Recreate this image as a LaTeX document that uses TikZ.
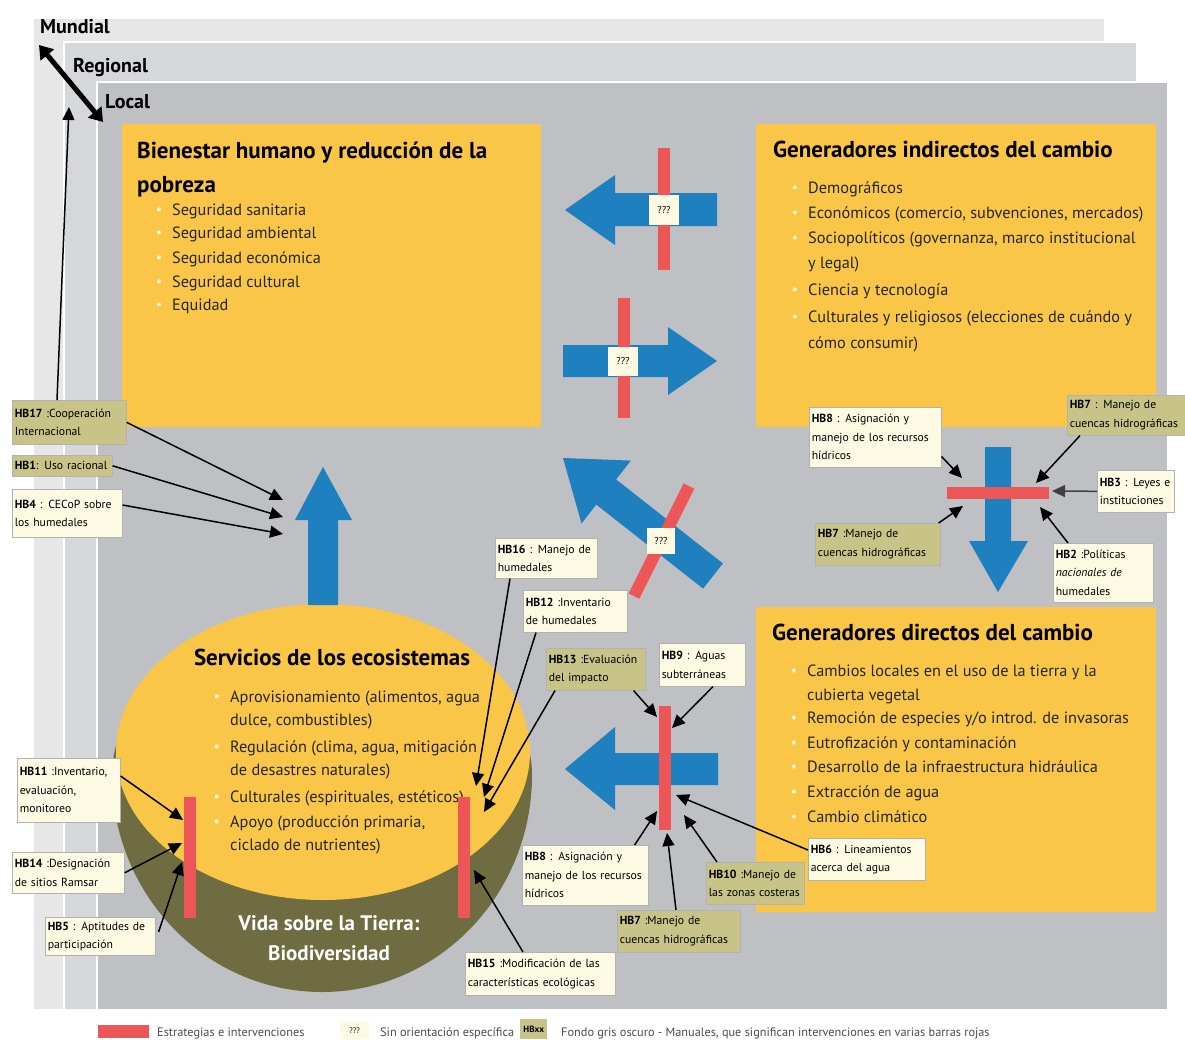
\documentclass[tikz,border=0pt]{standalone}
\usepackage{fontspec}
\setmainfont{PT Sans}
\usetikzlibrary{arrows.meta,calc}
\definecolor{yel}{RGB}{250,198,72}
\definecolor{blu}{RGB}{30,128,190}
\definecolor{redb}{RGB}{236,86,86}
\definecolor{oli}{RGB}{110,108,64}
\definecolor{crm}{RGB}{252,250,226}
\definecolor{olb}{RGB}{200,196,136}
\definecolor{gLoc}{RGB}{190,192,196}
\definecolor{gReg}{RGB}{214,215,218}
\definecolor{gMun}{RGB}{231,231,232}
\definecolor{bulc}{RGB}{255,246,214}
\newcommand\bul{\llap{\textcolor{bulc}{\raisebox{1pt}{\scalebox{0.9}{•}}}\hspace{10pt}}}
\begin{document}
\begin{tikzpicture}[x=1pt,y=-1pt,
  ybox/.style={fill=yel, anchor=north west, inner sep=0pt},
  ttl/.style={anchor=base west, inner sep=0pt, font=\bfseries\fontsize{23}{26}\selectfont},
  body/.style={anchor=base west, inner sep=0pt, font=\fontsize{16.3}{19}\selectfont, text=black!85},
  lvl/.style={anchor=base west, inner sep=0pt, font=\bfseries\fontsize{20}{24}\selectfont},
  hb/.style={draw=black!30, line width=0.6pt, inner sep=2.5pt, anchor=north west, align=left, font=\fontsize{11.7}{18.5}\selectfont},
  hbc/.style={hb, fill=crm},
  hbo/.style={hb, fill=olb},
  hbar/.style={line width=1.5pt, -{Triangle[length=13pt,width=12pt]}},
  qbox/.style={fill=crm, inner sep=0pt, minimum width=30pt, minimum height=30pt, font=\fontsize{10}{12}\selectfont},
  rbar/.style={draw=redb, line width=12pt},
  lgd/.style={anchor=base west, inner sep=0pt, font=\fontsize{12.3}{14}\selectfont, text=black!70}
]
\useasboundingbox (0,0) rectangle (1185,1039);
\fill[white] (0,0) rectangle (1185,1039);
% scale layers
\filldraw[fill=gMun, draw=white, line width=2pt] (33,18) rectangle (1105,1010);
\filldraw[fill=gReg, draw=white, line width=2pt] (64,42) rectangle (1137,1010);
\filldraw[fill=gLoc, draw=white, line width=2pt] (97,82) rectangle (1168,1010);
\node[lvl] (mund) at (40,33) {Mundial};
\node[lvl] (reg) at (73,72) {Regional};
\node[lvl] (loc) at (105,108) {Local};
\coordinate (dA) at (39,45);
\coordinate (dB) at (103,122);
\draw[line width=5pt, {Triangle[length=13pt,width=17pt]}-{Triangle[length=13pt,width=17pt]}] (dA) -- (dB);

% yellow boxes
\node[ybox, minimum width=419pt, minimum height=303pt] (bien) at (122,124) {};
\node[ybox, minimum width=400pt, minimum height=303pt] (gind) at (756,124) {};
\node[ybox, minimum width=400pt, minimum height=305pt] (gdir) at (756,607) {};

% ellipse (earth + services)
\begin{scope}
  \clip (100,775) rectangle (550,1000);
  \fill[oli] (322,775) ellipse[x radius=210, y radius=217];
\end{scope}
\fill[oli] (322,775) ellipse[x radius=210, y radius=150];
\fill[yel] (323,752) ellipse[x radius=207, y radius=148];

% Bienestar text
\node[ttl] (t1a) at (137,158) {Bienestar humano y reducción de la};
\node[ttl] (t1b) at (137,192) {pobreza};
\node[body] (b1) at (172,215) {\bul Seguridad sanitaria};
\node[body] (b2) at (172,238) {\bul Seguridad ambiental};
\node[body] (b3) at (172,263) {\bul Seguridad económica};
\node[body] (b4) at (172,287) {\bul Seguridad cultural};
\node[body] (b5) at (172,310) {\bul Equidad};

% Indirectos text
\node[ttl] (t2) at (773,157) {Generadores indirectos del cambio};
\node[body] (i1) at (808,193) {\bul Demográficos};
\node[body] (i2) at (808,218) {\bul Económicos (comercio, subvenciones, mercados)};
\node[body] (i3) at (808,243) {\bul Sociopolíticos (governanza, marco institucional};
\node[body] (i3b) at (808,268) {y legal)};
\node[body] (i4) at (808,295) {\bul Ciencia y tecnología};
\node[body] (i5) at (808,322) {\bul Culturales y religiosos (elecciones de cuándo y};
\node[body] (i5b) at (808,348) {cómo consumir)};

% Directos text
\node[ttl] (t3) at (772,640) {Generadores directos del cambio};
\node[body] (d1) at (807,676) {\bul Cambios locales en el uso de la tierra y la};
\node[body] (d1b) at (807,700) {cubierta vegetal};
\node[body] (d2) at (807,723) {\bul Remoción de especies y/o introd. de invasoras};
\node[body] (d3) at (807,748) {\bul Eutrofización y contaminación};
\node[body] (d4) at (807,772) {\bul Desarrollo de la infraestructura hidráulica};
\node[body] (d5) at (807,797) {\bul Extracción de agua};
\node[body] (d6) at (807,822) {\bul Cambio climático};

% Servicios text
\node[ttl, anchor=base] (t4) at (332,665) {Servicios de los ecosistemas};
\node[body] (s1) at (230,702) {\bul Aprovisionamiento (alimentos, agua};
\node[body] (s1b) at (230,725) {dulce, combustibles)};
\node[body] (s2) at (230,752) {\bul Regulación (clima, agua, mitigación};
\node[body] (s2b) at (230,775) {de desastres naturales)};
\node[body] (s3) at (230,802) {\bul Culturales (espirituales, estéticos)};
\node[body] (s4) at (230,827) {\bul Apoyo (producción primaria,};
\node[body] (s4b) at (230,850) {ciclado de nutrientes)};
\node[anchor=base, inner sep=0pt, text=white, font=\bfseries\fontsize{21}{26}\selectfont] (v1) at (329,930) {Vida sobre la Tierra:};
\node[anchor=base, inner sep=0pt, text=white, font=\bfseries\fontsize{21}{26}\selectfont] (v2) at (329,960) {Biodiversidad};

% blue block arrows
\fill[blu] (308,605) -- (308,520) -- (295,520) -- (323,467) -- (352,520) -- (338,520) -- (338,605) -- cycle;
\fill[blu] (717,193) -- (615,193) -- (615,175) -- (565,210) -- (615,245) -- (615,226) -- (717,226) -- cycle;
\fill[blu] (563,345) -- (668,345) -- (668,327) -- (717,361) -- (668,395) -- (668,377) -- (563,377) -- cycle;
\fill[blu] (703.1,588.6) -- (596.3,504.6) -- (581.5,523.4) -- (563,458) -- (630.9,460.6) -- (616.1,479.4) -- (722.9,563.4) -- cycle;
\fill[blu] (985,447) -- (1011,447) -- (1011,541) -- (1028,541) -- (998,592) -- (969,541) -- (985,541) -- cycle;
\fill[blu] (718,753) -- (615,753) -- (615,727) -- (565,769) -- (615,810) -- (615,785) -- (718,785) -- cycle;

% red bars
\coordinate (r1a) at (664,148); \coordinate (r1b) at (664,270);
\draw[rbar] (r1a) -- (r1b);
\coordinate (r2a) at (624,298); \coordinate (r2b) at (624,418);
\draw[rbar] (r2a) -- (r2b);
\coordinate (r3a) at (689,486); \coordinate (r3b) at (634,596);
\draw[rbar] (r3a) -- (r3b);
\coordinate (r4a) at (947,493); \coordinate (r4b) at (1049,493);
\draw[rbar] (r4a) -- (r4b);
\coordinate (r5a) at (665,706); \coordinate (r5b) at (665,830);
\draw[rbar] (r5a) -- (r5b);
\coordinate (r6a) at (190,797); \coordinate (r6b) at (190,918);
\draw[rbar] (r6a) -- (r6b);
\coordinate (r7a) at (464,797); \coordinate (r7b) at (464,918);
\draw[rbar] (r7a) -- (r7b);

% ??? boxes
\node[qbox] (q1) at (664,210) {???};
\node[qbox, minimum width=30pt, minimum height=29pt] (q2) at (623,361) {???};
\node[qbox, minimum width=28pt, minimum height=26pt] (q3) at (661,541) {???};

% HB label boxes
\node[hbo, text width=109pt, minimum height=44pt] (hb17) at (12,400) {\textbf{HB17} :Cooperación\\Internacional};
\node[hbo, text width=95pt, minimum height=21pt] (hb1) at (12,455) {\textbf{HB1}: Uso racional};
\node[hbc, text width=105pt, minimum height=48pt] (hb4) at (12,489) {\textbf{HB4} : CECoP sobre\\los humedales};
\node[hbc, text width=127pt, minimum height=60pt] (hb8a) at (809,407) {\textbf{HB8} : Asignación y\\manejo de los recursos\\hídricos};
\node[hbo, text width=113pt, minimum height=40pt] (hb7a) at (1067,395) {\textbf{HB7} : Manejo de\\cuencas hidrográficas};
\node[hbc, text width=72pt, minimum height=42pt] (hb3) at (1097,470) {\textbf{HB3} : Leyes e\\instituciones};
\node[hbo, text width=120pt, minimum height=42pt] (hb7b) at (815,523) {\textbf{HB7} :Manejo de\\cuencas hidrográficas};
\node[hbc, text width=95pt, minimum height=59pt] (hb2) at (1053,543) {\textbf{HB2} :Políticas\\\textit{nacionales de}\\humedales};
\node[hbc, text width=97pt, minimum height=40pt] (hb16) at (495,538) {\textbf{HB16} : Manejo de\\humedales};
\node[hbc, text width=99pt, minimum height=42pt] (hb12) at (523,590) {\textbf{HB12} :Inventario\\de humedales};
\node[hbo, text width=94pt, minimum height=42pt] (hb13) at (546,648) {\textbf{HB13} :Evaluación\\del impacto};
\node[hbc, text width=81pt, minimum height=43pt] (hb9) at (659,643) {\textbf{HB9} : Aguas\\subterráneas};
\node[hbc, text width=98pt, minimum height=64pt] (hb11) at (17,758) {\textbf{HB11} :Inventario,\\evaluación,\\monitoreo};
\node[hbc, text width=107pt, minimum height=41pt] (hb14) at (12,852) {\textbf{HB14} :Designación\\de sitios Ramsar};
\node[hbc, text width=105pt, minimum height=38pt] (hb5) at (45,917) {\textbf{HB5} : Aptitudes de\\participación};
\node[hbc, text width=121pt, minimum height=60pt] (hb8b) at (522,845) {\textbf{HB8} : Asignación y\\manejo de los recursos\\hídricos};
\node[hbo, text width=118pt, minimum height=42pt] (hb7c) at (617,910) {\textbf{HB7} :Manejo de\\cuencas hidrográficas};
\node[hbo, text width=93pt, minimum height=42pt] (hb10) at (706,862) {\textbf{HB10} :Manejo de\\las zonas costeras};
\node[hbc, text width=112pt, minimum height=42pt] (hb6) at (808,838) {\textbf{HB6} : Lineamientos\\acerca del agua};
\node[hbc, text width=145pt, minimum height=43pt] (hb15) at (465,952) {\textbf{HB15} :Modificación de las\\características ecológicas};

% arrow tips
\coordinate (tUp) at (69,107);
\coordinate (t17) at (283,500);
\coordinate (t1) at (283,517);
\coordinate (t4) at (283,534);
\coordinate (t8a) at (962,478);
\coordinate (t7a) at (1036,483);
\coordinate (t3) at (1052,491);
\coordinate (t7b) at (963,506);
\coordinate (t2) at (1040,507);
\coordinate (t16) at (476,786);
\coordinate (t12) at (484,797);
\coordinate (t13) at (484,812);
\coordinate (t13b) at (657,717);
\coordinate (t9) at (672,728);
\coordinate (t11) at (183,820);
\coordinate (t14) at (182,843);
\coordinate (t5) at (182,862);
\coordinate (t8b) at (657,811);
\coordinate (t7c) at (667,833);
\coordinate (t10) at (684,815);
\coordinate (t6) at (676,795);
\coordinate (t15) at (474,870);

% HB arrows
\draw[hbar] ($(hb17.north west)+(45,0)$) -- (tUp);
\draw[hbar] (hb17.east) -- (t17);
\draw[hbar] (hb1.east) -- (t1);
\draw[hbar] ($(hb4.north east)+(0,16)$) -- (t4);
\draw[hbar] ($(hb8a.south east)+(0,-11)$) -- (t8a);
\draw[hbar] ($(hb7a.south west)+(13,0)$) -- (t7a);
\draw[hbar, draw=black!75] (hb3.west) -- (t3);
\draw[hbar] ($(hb7b.north east)+(-2,0)$) -- (t7b);
\draw[hbar] ($(hb2.north west)+(15,0)$) -- (t2);
\draw[hbar] ($(hb16.south west)+(15,0)$) -- (t16);
\draw[hbar] ($(hb12.south west)+(13,0)$) -- (t12);
\draw[hbar] ($(hb13.south west)+(9,0)$) -- (t13);
\draw[hbar] ($(hb13.south east)+(-12,0)$) -- (t13b);
\draw[hbar] ($(hb9.south west)+(54,0)$) -- (t9);
\draw[hbar] ($(hb11.north east)+(0,18)$) -- (t11);
\draw[hbar] (hb14.east) -- (t14);
\draw[hbar] ($(hb5.north east)+(3,15)$) -- (t5);
\draw[hbar] ($(hb8b.north east)+(-14,0)$) -- (t8b);
\draw[hbar] ($(hb7c.north west)+(59,0)$) -- (t7c);
\draw[hbar] ($(hb10.north west)+(11,0)$) -- (t10);
\draw[hbar] ($(hb6.north west)+(0,12)$) -- (t6);
\draw[hbar] ($(hb15.north west)+(58,0)$) -- (t15);

% legend
\node[fill=redb, inner sep=0pt, minimum width=51pt, minimum height=13pt, anchor=north west] (lg1) at (98,1025) {};
\node[lgd] (lg1t) at (157,1036) {Estrategias e intervenciones};
\node[fill=crm, inner sep=0pt, minimum width=29pt, minimum height=18pt, anchor=north west, font=\fontsize{8}{10}\selectfont] (lg2) at (340,1021) {???};
\node[lgd] (lg2t) at (380,1036) {Sin orientación específica};
\node[fill=olb, inner sep=0pt, minimum width=27pt, minimum height=20pt, anchor=north west, font=\bfseries\fontsize{9}{10}\selectfont] (lg3) at (520,1019) {HBxx};
\node[lgd] (lg3t) at (561,1036) {Fondo gris oscuro - Manuales, que significan intervenciones en varias barras rojas};
\end{tikzpicture}
\end{document}
